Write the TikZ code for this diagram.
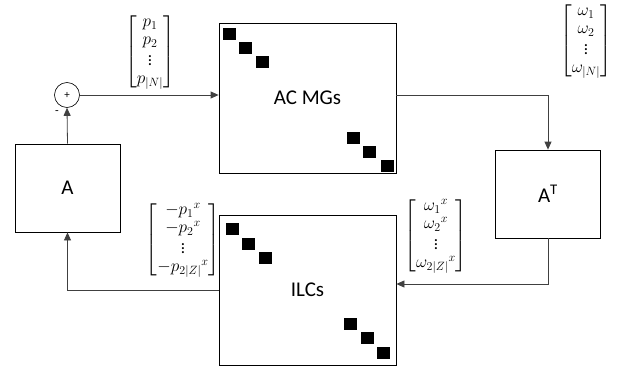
\documentclass[tikz,border=0pt]{standalone}
\usepackage{amsmath}
\usepackage{fontspec}
\setmainfont{Carlito}
\usetikzlibrary{arrows.meta}

\begin{document}
\begin{tikzpicture}[x=1pt, y=-1pt, >={Triangle[length=8pt,width=7pt]},
  block/.style={draw, line width=0.8pt, font=\fontsize{21}{24}\selectfont},
  small/.style={draw, line width=0.8pt, minimum width=105pt, minimum height=88pt, font=\fontsize{21}{24}\selectfont},
  vec/.style={font=\fontsize{17}{18}\selectfont, inner sep=0pt},
  link/.style={->, line width=0.8pt, draw=black!75}]
\useasboundingbox (0,0) rectangle (625,372);
\node[block, minimum width=177pt, minimum height=150pt] (acmg) at (307.5,98) {AC MGs};
\node[block, minimum width=177pt, minimum height=150pt] (ilc) at (307.5,290) {ILCs};
\node[small] (boxA) at (67.5,188) {A};
\node[small] (boxAT) at (548,194) {A\textsuperscript{T}};
\node[draw, circle, line width=0.6pt, minimum size=25pt, inner sep=0pt, font=\fontsize{11}{12}\selectfont] (sum) at (67,95) {+};
\node[font=\fontsize{12}{12}\selectfont] (minus) at (57,113) {-};
% diagonal blocks
\foreach \dx/\dy in {223/28, 239/42, 256/56, 347/132, 363/146, 381/160}
  \fill (\dx,\dy) rectangle ++(13,12);
\foreach \dx/\dy in {226/223, 242/238, 259/252, 344/318, 361/332, 377/347}
  \fill (\dx,\dy) rectangle ++(13,12);
% vectors
\node[vec] (pvec) at (150,52) {$\begin{bmatrix} p_1\\ p_2\\ \vdots\\ p_{|N|} \end{bmatrix}$};
\node[vec] (wvec) at (586,41) {$\begin{bmatrix} \omega_1\\ \omega_2\\ \vdots\\ \omega_{|N|} \end{bmatrix}$};
\node[vec] (wxvec) at (436,236) {$\begin{bmatrix} {\omega_1}^x\\ {\omega_2}^x\\ \vdots\\ {\omega_{2|Z|}}^x \end{bmatrix}$};
\node[vec] (pxvec) at (183,240) {$\begin{bmatrix} -{p_1}^x\\ -{p_2}^x\\ \vdots\\ -{p_{2|Z|}}^x \end{bmatrix}$};
% connections
\draw[link] (sum.east) -- (sum -| acmg.west);
\draw[link] (acmg.east |- sum) -| (boxAT.north);
\draw[link] (boxAT.south) |- ([yshift=6pt]ilc.east);
\draw[link] (ilc.west) -| (boxA.south);
\draw[link] (boxA.north) -- (sum.south);
\end{tikzpicture}
\end{document}
